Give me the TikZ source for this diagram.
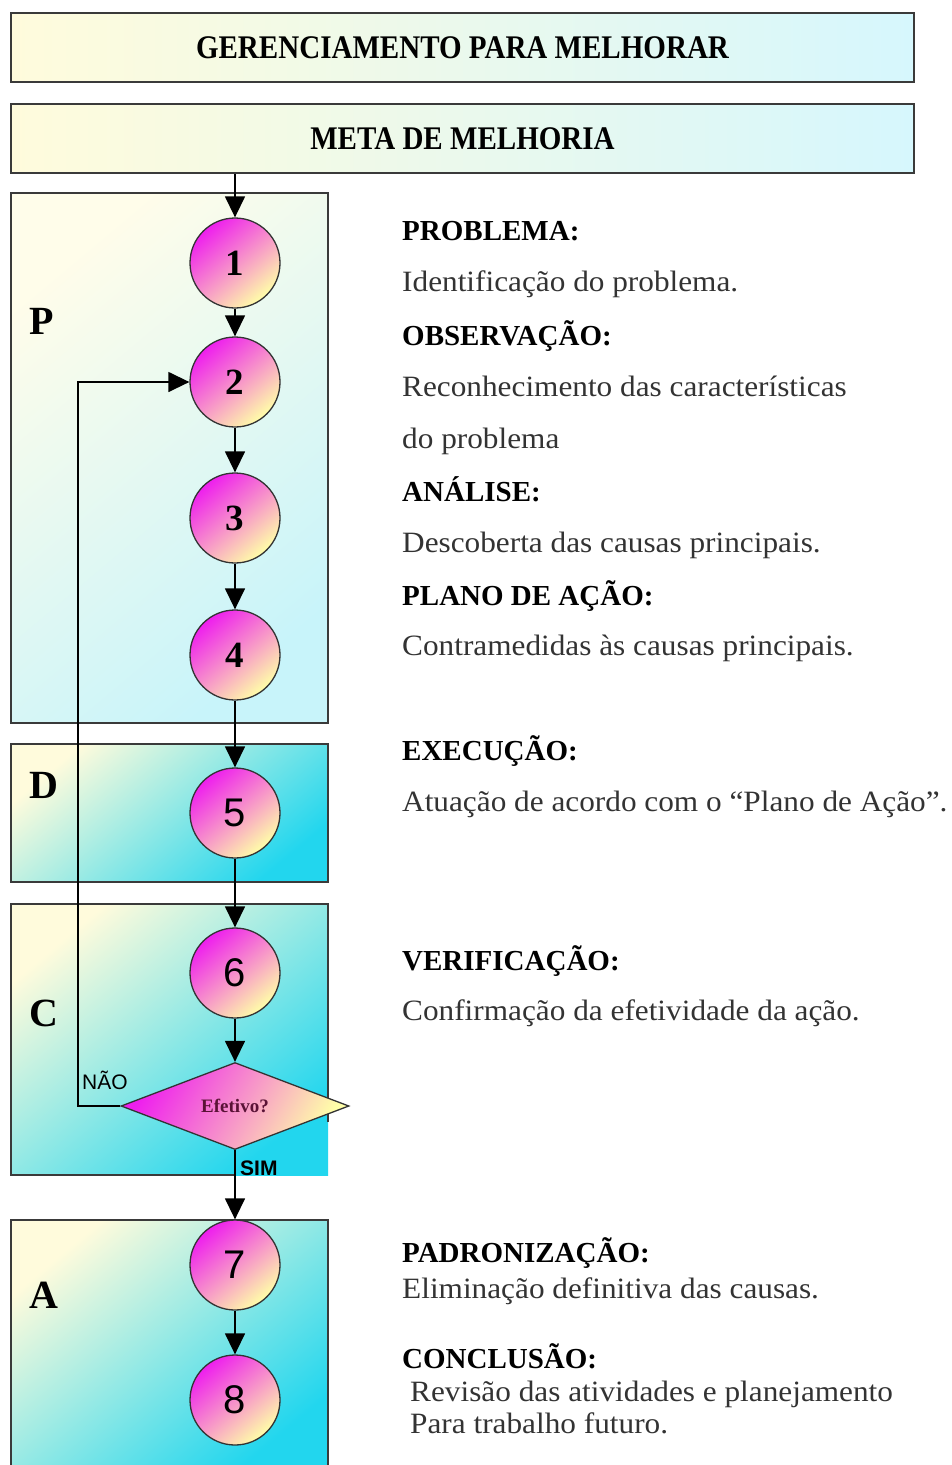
\documentclass[tikz,border=0pt]{standalone}
\usepackage{fontspec}
\setmainfont{Liberation Serif}
\newfontfamily\sansf{Liberation Sans}
\newfontfamily\condf[FakeStretch=0.88]{Liberation Serif}
\newfontfamily\bodyf[FakeStretch=1.06]{Liberation Serif}
\usetikzlibrary{shapes.geometric,arrows.meta}
\definecolor{boxline}{HTML}{3A3A3A}
\definecolor{paleyel}{HTML}{FFFBDC}
\definecolor{palecyan}{HTML}{D6F7FD}
\definecolor{lightcyan}{HTML}{C8F4FA}
\definecolor{strongcyan}{HTML}{22D6EE}
\definecolor{mag}{HTML}{EE1EEE}
\definecolor{softyel}{HTML}{FFFFA8}
\definecolor{bodytext}{HTML}{333333}
\definecolor{efet}{HTML}{5A1236}
\tikzset{
  headbox/.style={draw=boxline, line width=1.6pt, left color=paleyel, right color=palecyan},
  phasebox/.style={top color=paleyel, bottom color=strongcyan, shading angle=40},
  pbox/.style={top color=paleyel!60!white, bottom color=lightcyan, shading angle=40},
  boxedge/.style={draw=boxline, line width=1.6pt},
  stepcirc/.style={circle, draw=black!80, line width=1.3pt, minimum size=90pt, inner sep=0pt,
     top color=mag, bottom color=softyel, shading angle=40},
  decision/.style={diamond, draw=black!80, line width=1.3pt, minimum width=228pt, minimum height=87pt,
     inner sep=0pt, top color=mag, bottom color=softyel, shading angle=60},
  flow/.style={line width=1.4pt, -{Triangle[width=20pt,length=21pt]}},
  phaseletter/.style={font=\bfseries\fontsize{40}{42}\selectfont, anchor=base west},
  numserif/.style={font=\bfseries\fontsize{37}{39}\selectfont},
  numsans/.style={font=\sansf\fontsize{40}{42}\selectfont},
  headtxt/.style={anchor=base west, inner sep=0pt, font=\bfseries\fontsize{29}{31}\selectfont},
  bodytxt/.style={anchor=base west, inner sep=0pt, text=bodytext, font=\bodyf\fontsize{29.5}{31}\selectfont},
}
\begin{document}
\begin{tikzpicture}[x=1pt,y=-1pt]
\useasboundingbox (0,0) rectangle (951,1465);
\fill[white] (0,0) rectangle (951,1465);

% header boxes
\node[headbox, minimum width=903pt, minimum height=69pt, inner sep=0pt] (top) at (462.5,47.5)
  {\condf\bfseries\fontsize{33}{35}\selectfont GERENCIAMENTO PARA MELHORAR};
\node[headbox, minimum width=903pt, minimum height=69pt, inner sep=0pt] (meta) at (462.5,138.5)
  {\condf\bfseries\fontsize{33}{35}\selectfont META DE MELHORIA};

% phase boxes
\shade[pbox] (11,193) rectangle (328,723);
\draw[boxedge] (11,193) rectangle (328,723);
\shade[phasebox] (11,744) rectangle (328,882);
\draw[boxedge] (11,744) rectangle (328,882);
\shade[phasebox] (11,904) rectangle (328,1175);
\draw[boxedge] (328,1122) -- (328,904) -- (11,904) -- (11,1175) -- (235,1175);
\shade[phasebox] (11,1220) rectangle (328,1470);
\draw[boxedge] (11,1470) -- (11,1220) -- (328,1220) -- (328,1470);

% phase letters
\node[phaseletter] (lp) at (26,334) {P};
\node[phaseletter] (ld) at (26,798) {D};
\node[phaseletter] (lc) at (26,1026) {C};
\node[phaseletter] (la) at (26,1308) {A};

% step circles
\node[stepcirc, numserif] (c1) at (235,263) {1};
\node[stepcirc, numserif] (c2) at (235,382) {2};
\node[stepcirc, numserif] (c3) at (235,518) {3};
\node[stepcirc, numserif] (c4) at (235,655) {4};
\node[stepcirc, numsans] (c5) at (235,813) {5};
\node[stepcirc, numsans] (c6) at (235,973) {6};
\node[decision, text=efet, font=\bfseries\fontsize{19}{21}\selectfont] (dia) at (235,1106) {Efetivo?};
\node[stepcirc, numsans] (c7) at (235,1265) {7};
\node[stepcirc, numsans] (c8) at (235,1400) {8};

% connectors
\draw[flow] (c1 |- meta.south) -- (c1.north);
\draw[flow] (c1) -- (c2);
\draw[flow] (c2) -- (c3);
\draw[flow] (c3) -- (c4);
\draw[flow] (c4) -- (c5);
\draw[flow] (c5) -- (c6);
\draw[flow] (c6.south) -- (dia.north);
\draw[flow] (dia.south) -- (c7.north);
\draw[flow] (c7) -- (c8);
\coordinate (back) at (78,1106);
\draw[flow] (dia.west) -- (back) |- (c2.west);

\node[font=\sansf\fontsize{21}{23}\selectfont, anchor=west, inner sep=0pt] (nao) at (82,1080) {NÃO};
\node[font=\sansf\bfseries\fontsize{21}{23}\selectfont, anchor=west, inner sep=0pt] (sim) at (240,1168) {SIM};

% right-hand texts
\node[headtxt] (t1) at (402,240) {PROBLEMA:};
\node[bodytxt] (t2) at (402,291) {Identificação do problema.};
\node[headtxt] (t3) at (402,345) {OBSERVAÇÃO:};
\node[bodytxt] (t4) at (402,396) {Reconhecimento das características};
\node[bodytxt] (t5) at (402,448) {do problema};
\node[headtxt] (t6) at (402,501) {ANÁLISE:};
\node[bodytxt] (t7) at (402,552) {Descoberta das causas principais.};
\node[headtxt] (t8) at (402,605) {PLANO DE AÇÃO:};
\node[bodytxt] (t9) at (402,655) {Contramedidas às causas principais.};
\node[headtxt] (t10) at (402,760) {EXECUÇÃO:};
\node[bodytxt] (t11) at (402,811) {Atuação de acordo com o “Plano de Ação”.};
\node[headtxt] (t12) at (402,970) {VERIFICAÇÃO:};
\node[bodytxt] (t13) at (402,1020) {Confirmação da efetividade da ação.};
\node[headtxt] (t14) at (402,1262) {PADRONIZAÇÃO:};
\node[bodytxt] (t15) at (402,1298) {Eliminação definitiva das causas.};
\node[headtxt] (t16) at (402,1368) {CONCLUSÃO:};
\node[bodytxt] (t17) at (410,1401) {Revisão das atividades e planejamento};
\node[bodytxt] (t18) at (410,1433) {Para trabalho futuro.};
\end{tikzpicture}
\end{document}
